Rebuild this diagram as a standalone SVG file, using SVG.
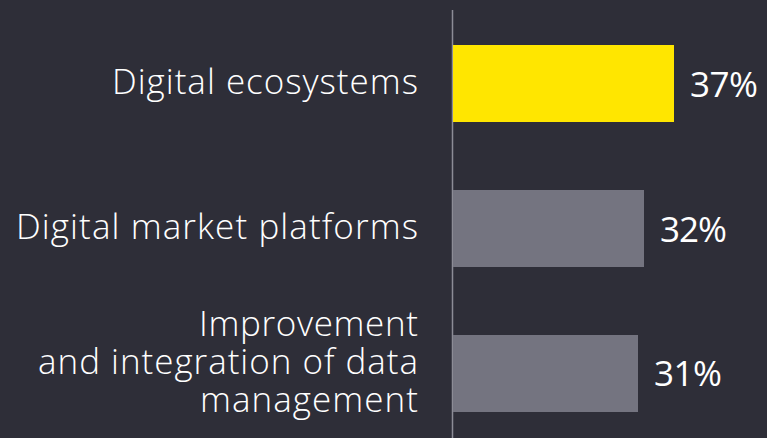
<svg xmlns="http://www.w3.org/2000/svg" width="767" height="438" viewBox="0 0 767 438">
<style>
.lbl{font-family:"Open Sans","Liberation Sans",Arial,sans-serif;font-size:35px;font-weight:300;fill:#FFFFFF;text-anchor:end;}
.val{font-family:"Open Sans","Liberation Sans",Arial,sans-serif;font-size:35px;fill:#FFFFFF;}
</style>
<rect x="0" y="0" width="767" height="438" fill="#2E2E38"/>
<g id="axis"><line x1="452.5" y1="10" x2="452.5" y2="438" stroke="#8C8C96" stroke-width="1.5"/></g>
<g id="bar-ecosystems">
<rect x="453" y="45" width="221" height="77" fill="#FFE600"/>
<text class="lbl" x="418" y="94" textLength="306">Digital ecosystems</text>
<text class="val" x="690" y="97" textLength="68">37%</text>
</g>
<g id="bar-platforms">
<rect x="453" y="190" width="191" height="77" fill="#747480"/>
<text class="lbl" x="418" y="239" textLength="402">Digital market platforms</text>
<text class="val" x="660" y="242" textLength="67">32%</text>
</g>
<g id="bar-data">
<rect x="453" y="335" width="185" height="77" fill="#747480"/>
<text class="lbl" x="418" y="336" textLength="219">Improvement</text>
<text class="lbl" x="418" y="374" textLength="380">and integration of data</text>
<text class="lbl" x="418" y="412" textLength="218">management</text>
<text class="val" x="654" y="386" textLength="68">31%</text>
</g>
<g id="connectors"></g>
</svg>
